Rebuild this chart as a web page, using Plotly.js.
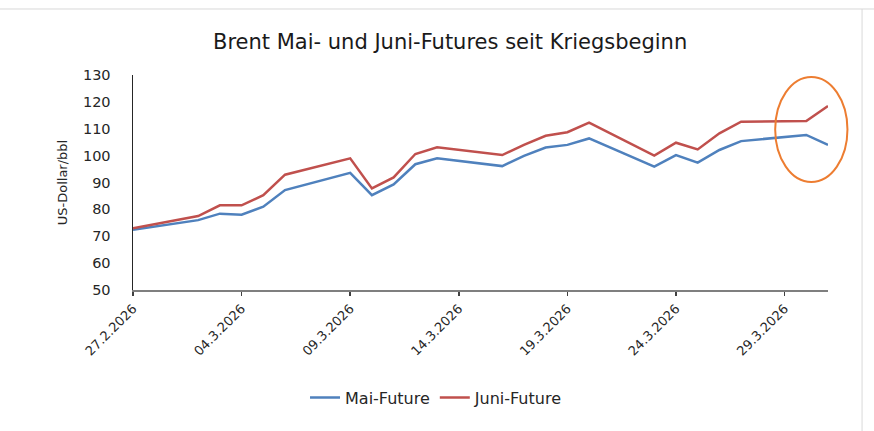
<!DOCTYPE html>
<html>
<head>
<meta charset="utf-8">
<script src="https://cdn.plot.ly/plotly-3.0.1.min.js"></script>
<style>
html,body{margin:0;padding:0;background:#fff;}
#chart{width:874px;height:431px;}
</style>
</head>
<body>
<div id="chart"></div>
<script>
const dates = ['2026-02-27','2026-03-02','2026-03-03','2026-03-04','2026-03-05','2026-03-06',
  '2026-03-09','2026-03-10','2026-03-11','2026-03-12','2026-03-13',
  '2026-03-16','2026-03-17','2026-03-18','2026-03-19','2026-03-20',
  '2026-03-23','2026-03-24','2026-03-25','2026-03-26','2026-03-27',
  '2026-03-30','2026-03-31'];
const maiFuture = [72.4, 76.0, 78.4, 78.0, 81.0, 87.2, 93.6, 85.3, 89.3, 96.8, 99.0,
  96.1, 99.9, 103.0, 104.0, 106.4, 95.9, 100.2, 97.4, 102.1, 105.4, 107.7, 104.0];
const juniFuture = [73.0, 77.5, 81.5, 81.5, 85.3, 92.9, 99.0, 87.8, 91.9, 100.6, 103.1,
  100.2, 104.0, 107.4, 108.7, 112.3, 100.0, 104.8, 102.3, 108.3, 112.6, 112.9, 118.5];
const tickDates = ['2026-02-27','2026-03-04','2026-03-09','2026-03-14','2026-03-19','2026-03-24','2026-03-29'];
const tickLabels = ['27.2.2026','04.3.2026','09.3.2026','14.3.2026','19.3.2026','24.3.2026','29.3.2026'];
const yTicks = [50,60,70,80,90,100,110,120,130];

const FONT = '"DejaVu Sans", "Open Sans", sans-serif';
const traces = [
  {x: dates, y: maiFuture, name: 'Mai-Future', type: 'scatter', mode: 'lines',
   line: {color: '#4F81BD', width: 2.5}},
  {x: dates, y: juniFuture, name: 'Juni-Future', type: 'scatter', mode: 'lines',
   line: {color: '#C0504D', width: 2.5}}
];

const layout = {
  width: 874, height: 431,
  margin: {l: 133, r: 46, t: 75, b: 141},
  paper_bgcolor: '#fff', plot_bgcolor: '#fff',
  font: {family: FONT, color: '#262626', size: 13},
  title: {text: 'Brent Mai- und Juni-Futures seit Kriegsbeginn',
    font: {family: FONT, size: 21, color: '#1a1a1a'},
    xref: 'container', x: 0.515, xanchor: 'center', yref: 'container', y: 0.903, yanchor: 'middle'},
  showlegend: true,
  legend: {orientation: 'h', xref: 'paper', x: 0.436, xanchor: 'center', yref: 'paper', y: -0.5, yanchor: 'middle',
    font: {family: FONT, size: 16, color: '#262626'}, itemwidth: 30, tracegroupgap: 0},
  xaxis: {
    type: 'date', range: ['2026-02-27', '2026-03-31'],
    tickmode: 'array', tickvals: tickDates, ticktext: tickLabels, tickangle: -45,
    ticks: 'outside', ticklen: 4, tickwidth: 1.5, tickcolor: '#404040',
    showline: true, linecolor: '#7f7f7f', linewidth: 2,
    showgrid: false, zeroline: false,
    tickfont: {family: FONT, size: 13, color: '#262626'}
  },
  yaxis: {
    range: [50, 130], tickmode: 'array', tickvals: yTicks,
    ticks: '', ticklabelstandoff: 18,
    showline: true, linecolor: '#262626', linewidth: 1.5,
    showgrid: false, zeroline: false,
    tickfont: {family: FONT, size: 14.5, color: '#262626'},
    title: {text: 'US-Dollar/bbl', font: {family: FONT, size: 13, color: '#262626'}, standoff: 12}
  },
  shapes: [
    {type: 'circle', xref: 'paper', yref: 'paper', x0: 0.924, x1: 1.028, y0: 0.502, y1: 0.991,
     line: {color: '#ED7D31', width: 2}},
    {type: 'line', xref: 'paper', yref: 'paper', x0: -0.2, x1: 1.07, y0: 1.307, y1: 1.307,
     line: {color: '#D9D9D9', width: 1}},
    {type: 'line', xref: 'paper', yref: 'paper', x0: 1.049, x1: 1.049, y0: 1.307, y1: -0.7,
     line: {color: '#D9D9D9', width: 1}}
  ]
};

Plotly.newPlot('chart', traces, layout, {displayModeBar: false, staticPlot: true});
</script>
</body>
</html>
